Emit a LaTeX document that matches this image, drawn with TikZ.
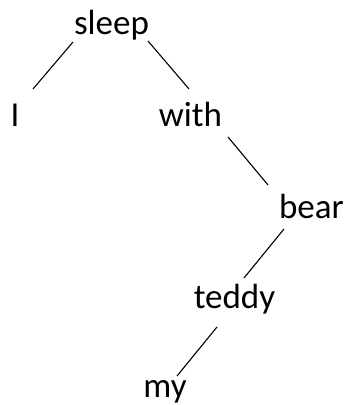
\documentclass[tikz,border=0pt]{standalone}
\usepackage{fontspec}
\setmainfont{Carlito}
\begin{document}
\begin{tikzpicture}[x=1pt,y=1pt,
  word/.style={anchor=base,inner sep=0pt,font=\fontsize{35}{42}\selectfont},
  branch/.style={draw=black,line width=1.1pt}]
\useasboundingbox (0,0) rectangle (351,405);
% words of the dependency tree
\node[word] (sleep) at (111.5,370) {sleep};
\node[word] (I)     at (15,278)    {I};
\node[word] (with)  at (190.5,278) {with};
\node[word] (bear)  at (311.5,186) {bear};
\node[word] (teddy) at (234.5,96)  {teddy};
\node[word] (my)    at (165,7)     {my};
% branches, head to dependent
\draw[branch] ([shift={(-38.5,-7)}]sleep.base) -- ([shift={(18,38)}]I.base);
\draw[branch] ([shift={(36.5,-6)}]sleep.base) -- ([shift={(-1.5,38)}]with.base);
\draw[branch] ([shift={(37.5,-10)}]with.base) -- ([shift={(-43.5,34)}]bear.base);
\draw[branch] ([shift={(-27.5,-10)}]bear.base) -- ([shift={(9.5,31)}]teddy.base);
\draw[branch] ([shift={(-17.5,-18)}]teddy.base) -- ([shift={(12,22)}]my.base);
\end{tikzpicture}
\end{document}
